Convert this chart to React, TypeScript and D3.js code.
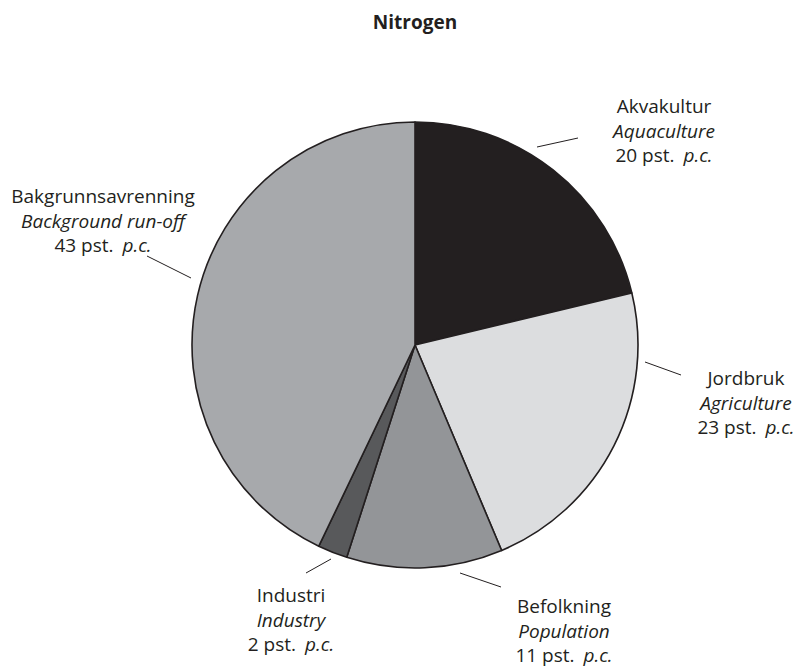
import React from "react";
import * as d3 from "d3";

const categories = ["Akvakultur", "Jordbruk", "Befolkning", "Industri", "Bakgrunnsavrenning"];
const englishNames = ["Aquaculture", "Agriculture", "Population", "Industry", "Background run-off"];
const values = [21.25, 22.4, 11.3, 2.15, 42.9];
const percentLabels = ["20", "23", "11", "2", "43"];
const colors = ["#231f20", "#dcdddf", "#939598", "#58595b", "#a7a9ac"];

// label layout (positions, not data)
const labelPos = [
  { x: 664, y: 113 },
  { x: 746, y: 385 },
  { x: 564, y: 613 },
  { x: 291, y: 602 },
  { x: 103, y: 203 },
];
const leaders = [
  [537, 147, 578, 138],
  [645, 362, 681, 375],
  [460, 573, 501, 587],
  [306, 573, 331, 559],
  [147, 256, 191, 278],
];

export default function App() {
  const W = 803;
  const H = 669;
  const cx = 415;
  const cy = 345;
  const r = 223;
  const pie = d3.pie<number>().sort(null).value((d) => d);
  const arcs = pie(values);
  const arc = d3.arc<d3.PieArcDatum<number>>().innerRadius(0).outerRadius(r);
  const font = "'Open Sans', 'Noto Sans', sans-serif";
  const fs = 19;
  const lh = 24.5;
  return (
    <svg
      width={W}
      height={H}
      style={{ position: "absolute", left: 0, top: 0, background: "#fff" }}
    >
      <text x={415} y={29} textAnchor="middle" fontFamily={font} fontWeight="bold" fontSize={19} fill="#231f20">
        Nitrogen
      </text>
      <g transform={`translate(${cx},${cy})`}>
        {arcs.map((a, i) => (
          <path key={i} d={arc(a) || ""} fill={colors[i]} stroke="#231f20" strokeWidth={1.6} strokeLinejoin="round" />
        ))}
      </g>
      {leaders.map((l, i) => (
        <line key={i} x1={l[0]} y1={l[1]} x2={l[2]} y2={l[3]} stroke="#231f20" strokeWidth={1} />
      ))}
      {categories.map((c, i) => (
        <text key={i} textAnchor="middle" fontFamily={font} fontSize={fs} fill="#231f20">
          <tspan x={labelPos[i].x} y={labelPos[i].y}>{c}</tspan>
          <tspan x={labelPos[i].x} y={labelPos[i].y + lh} fontStyle="italic">{englishNames[i]}</tspan>
          <tspan x={labelPos[i].x} y={labelPos[i].y + 2 * lh}>
            {percentLabels[i] + " pst."}
            <tspan dx={9} fontStyle="italic">p.c.</tspan>
          </tspan>
        </text>
      ))}
    </svg>
  );
}
